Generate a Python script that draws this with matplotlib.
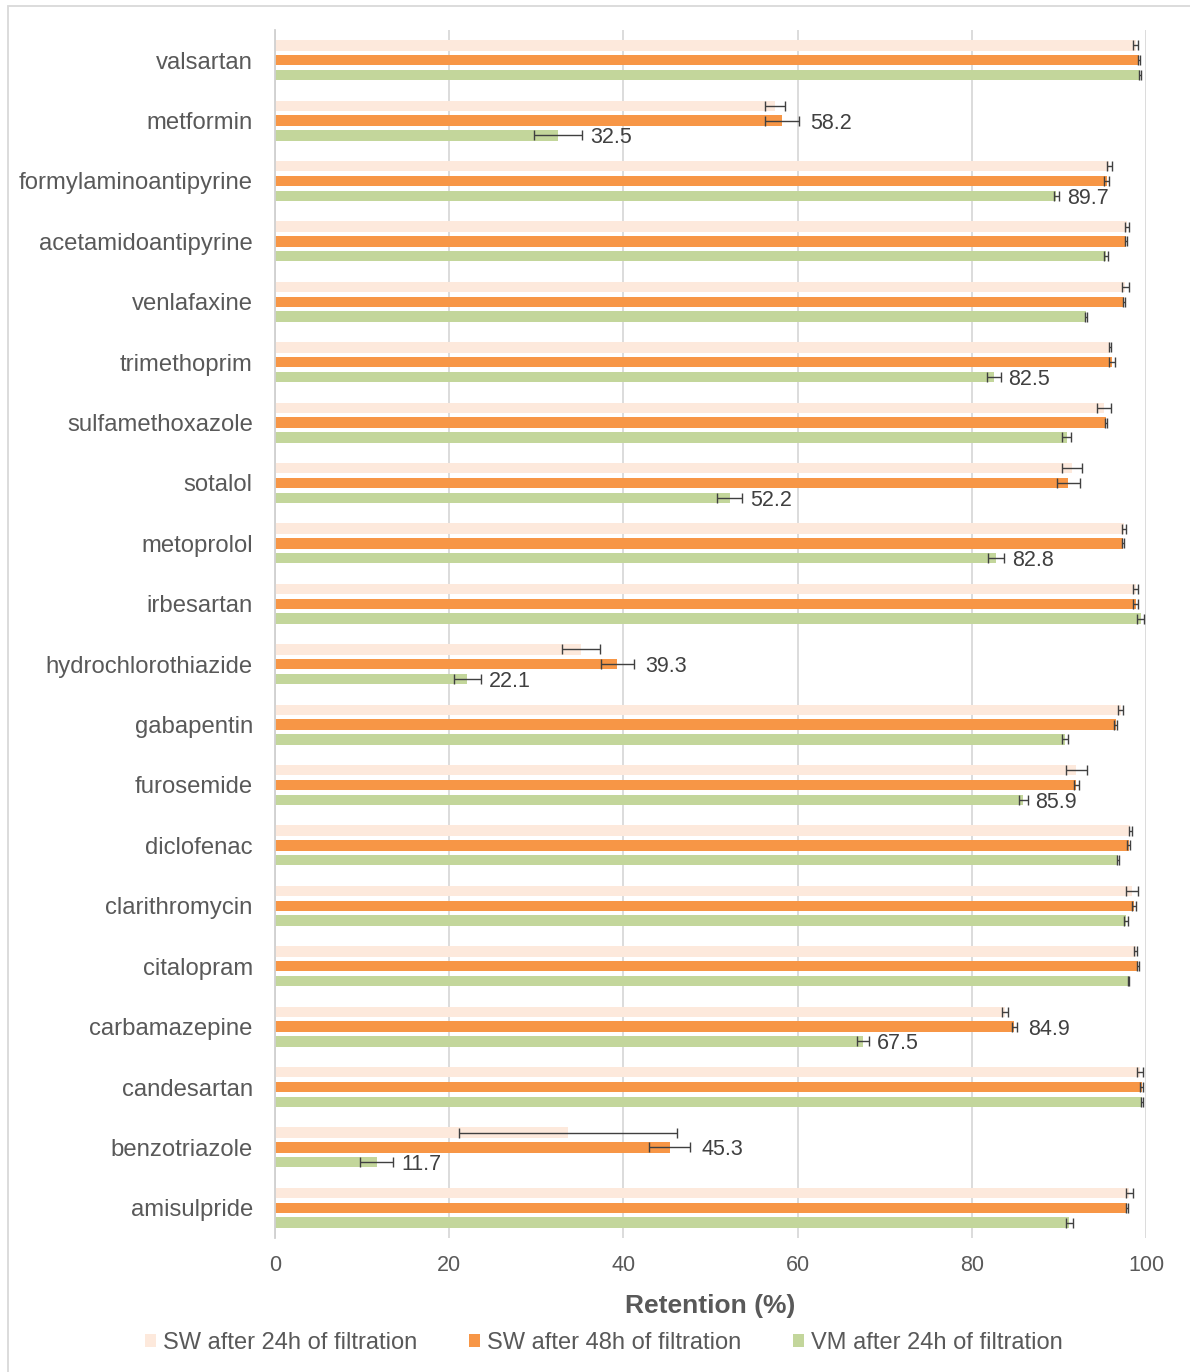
import numpy as np
import matplotlib
matplotlib.use('Agg')
import matplotlib.pyplot as plt
from matplotlib.patches import Rectangle

plt.rcParams['font.family'] = ['Liberation Sans', 'DejaVu Sans']

# - - - - - - - - - - - - - - - - - - - - - - - - - - - - - - - - -
# DATA  (top to bottom as in the chart)
# - - - - - - - - - - - - - - - - - - - - - - - - - - - - - - - - -

compounds = ['valsartan', 'metformin', 'formylaminoantipyrine', 'acetamidoantipyrine',
             'venlafaxine', 'trimethoprim', 'sulfamethoxazole', 'sotalol', 'metoprolol',
             'irbesartan', 'hydrochlorothiazide', 'gabapentin', 'furosemide', 'diclofenac',
             'clarithromycin', 'citalopram', 'carbamazepine', 'candesartan', 'benzotriazole',
             'amisulpride']

sw24 = [98.8, 57.4, 95.8, 97.8, 97.6, 95.9, 95.2, 91.5, 97.5, 98.8,
        35.1, 97.1, 92.0, 98.2, 98.4, 98.8, 83.8, 99.3, 33.6, 98.1]
sw24_err = [0.3, 1.2, 0.3, 0.2, 0.4, 0.1, 0.8, 1.2, 0.2, 0.3,
            2.2, 0.3, 1.2, 0.2, 0.7, 0.2, 0.3, 0.3, 12.5, 0.4]

sw48 = [99.2, 58.2, 95.5, 97.7, 97.5, 96.1, 95.4, 91.1, 97.4, 98.8,
        39.3, 96.5, 92.0, 98.0, 98.6, 99.1, 84.9, 99.5, 45.3, 97.8]
sw48_err = [0.1, 2.0, 0.3, 0.1, 0.1, 0.3, 0.1, 1.3, 0.1, 0.3,
            1.9, 0.2, 0.3, 0.2, 0.2, 0.1, 0.3, 0.2, 2.4, 0.1]

vm24 = [99.3, 32.5, 89.7, 95.4, 93.1, 82.5, 90.9, 52.2, 82.8, 99.4,
        22.1, 90.7, 85.9, 96.8, 97.7, 98.0, 67.5, 99.5, 11.7, 91.2]
vm24_err = [0.1, 2.8, 0.3, 0.2, 0.1, 0.8, 0.5, 1.4, 0.9, 0.4,
            1.6, 0.4, 0.5, 0.1, 0.2, 0.1, 0.7, 0.1, 1.9, 0.4]

# which values carry a data label
sw48_labelled = ['metformin', 'hydrochlorothiazide', 'carbamazepine', 'benzotriazole']
vm24_labelled = ['metformin', 'formylaminoantipyrine', 'trimethoprim', 'sotalol', 'metoprolol',
                 'hydrochlorothiazide', 'furosemide', 'carbamazepine', 'benzotriazole']

series_names = ['SW after 24h of filtration', 'SW after 48h of filtration', 'VM after 24h of filtration']
series_colors = ['#fde9dc', '#f79646', '#c3d69b']

# - - - - - - - - - - - - - - - - - - - - - - - - - - - - - - - - -
# PLOT
# - - - - - - - - - - - - - - - - - - - - - - - - - - - - - - - - -

W, H = 1190, 1372
fig = plt.figure(figsize=(W / 100, H / 100), dpi=100)
ax = fig.add_axes([275 / W, 1 - 1238 / H, (1146 - 275) / W, (1238 - 30) / H])

y = np.arange(len(compounds))
offset = 0.245
bar_h = 0.17
text_col = '#595959'
err_kw = dict(ecolor='#404040', elinewidth=1.0, capsize=3.5, capthick=1.0)

all_vals = [sw24, sw48, vm24]
all_errs = [sw24_err, sw48_err, vm24_err]
for k in range(3):
    ax.barh(y + (k - 1) * offset, all_vals[k], height=bar_h, color=series_colors[k],
            xerr=all_errs[k], error_kw=err_kw, label=series_names[k], zorder=2)

for i, name in enumerate(compounds):
    if name in sw48_labelled:
        ax.text(sw48[i] + sw48_err[i] + 1.3, y[i], '%.1f' % sw48[i], va='center_baseline',
                ha='left', fontsize=15.5, color='#404040')
    if name in vm24_labelled:
        ax.text(vm24[i] + vm24_err[i] + 0.9, y[i] + offset, '%.1f' % vm24[i],
                va='center_baseline', ha='left', fontsize=15.5, color='#404040')

ax.set_xlim(0, 100)
ax.set_ylim(len(compounds) - 0.5, -0.5)
ax.set_xticks([0, 20, 40, 60, 80, 100])
ax.set_yticks(y)
ax.set_yticklabels(compounds)
ax.tick_params(axis='y', length=0, pad=16, labelsize=17.2, labelcolor=text_col)
ax.tick_params(axis='x', length=0, pad=12, labelsize=15.5, labelcolor=text_col)
ax.xaxis.grid(True, color='#d9d9d9', linewidth=1.3, zorder=0)
ax.set_axisbelow(True)
for side in ['top', 'right', 'bottom']:
    ax.spines[side].set_visible(False)
ax.spines['left'].set_color('#d0d0d0')
ax.spines['left'].set_linewidth(1.3)

ax.set_xlabel('Retention (%)', fontsize=19, fontweight='bold', color=text_col, labelpad=13)

leg = fig.legend(loc='center', bbox_to_anchor=(604 / W, 1 - 1343 / H), ncol=3, frameon=False,
                 fontsize=17, handlelength=0.45, handleheight=0.45, handletextpad=0.3,
                 columnspacing=2.2, labelcolor=text_col)

# outer chart frame (top and left edges visible)
fig.patches.append(Rectangle((8 / W, -0.1), 1.2, 1 - 6 / H + 0.1, transform=fig.transFigure,
                             fill=False, edgecolor='#d9d9d9', linewidth=1.3))

fig.savefig('out.png', dpi=100)
